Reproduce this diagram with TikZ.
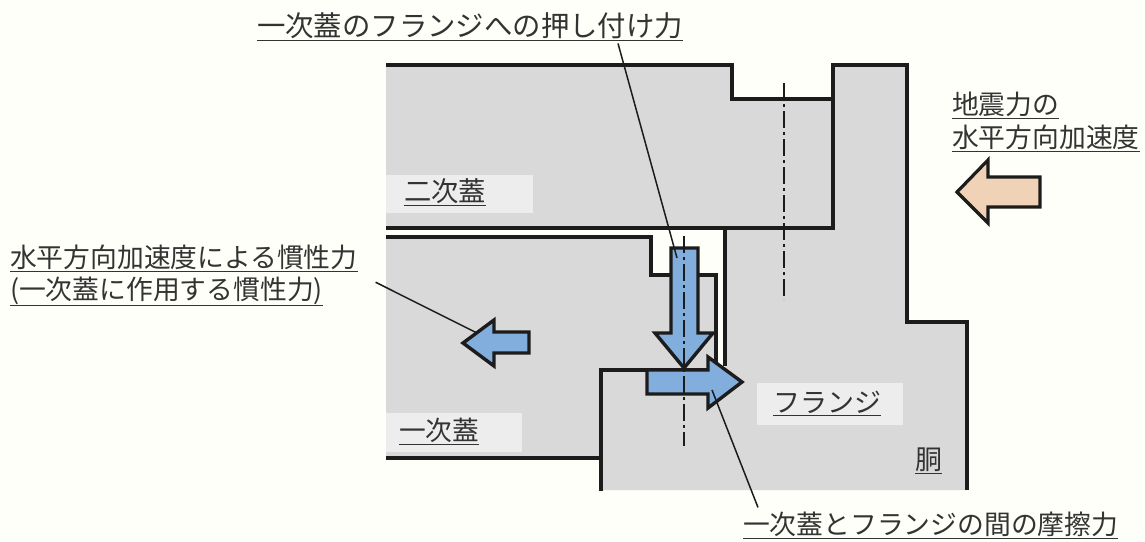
\documentclass[tikz,border=0pt]{standalone}
\usepackage{fontspec}
\setmainfont{Noto Sans CJK JP}
\usepackage{tikz}
\usetikzlibrary{positioning}
\definecolor{paperbg}{HTML}{FFFFFA}
\definecolor{partgray}{HTML}{D9D9D9}
\definecolor{patchgray}{HTML}{EDEDED}
\definecolor{forceblue}{HTML}{82AEDD}
\definecolor{accelpeach}{HTML}{F0D2B6}
\definecolor{edgedark}{HTML}{1C1C1C}
\tikzset{partfill/.style={fill=partgray, draw=none}}
\tikzset{outline/.style={draw=edgedark, line width=3.8pt, line join=miter}}
\tikzset{force/.style={draw=edgedark, fill=forceblue, line width=3.4pt, line join=miter}}
\tikzset{accel/.style={draw=edgedark, fill=accelpeach, line width=3.2pt, line join=miter}}
\tikzset{center line/.style={draw=edgedark, line width=1.7pt, dash pattern=on 17pt off 4pt on 3pt off 4pt}}
\tikzset{leader/.style={draw=edgedark, line width=1.5pt}}
\tikzset{lbl/.style={inner sep=0pt, outer sep=0pt, text=black!80, anchor=base west, font=\fontsize{#1}{30}\selectfont}}
\tikzset{patch/.style={fill=patchgray, draw=none}}

\begin{document}
\begin{tikzpicture}[x=1pt, y=-1pt]
	\useasboundingbox[fill=paperbg] (0,0) rectangle (1145,541);
	% parts
	\path[partfill] (386,65) -- (732,65) -- (732,99) -- (833,99) -- (833,229) -- (386,229) -- cycle;
	\path[partfill] (833,65) -- (907,65) -- (907,322) -- (967,322) -- (967,490) -- (601,490) -- (601,370) -- (725,370) -- (725,229) -- (833,229) -- cycle;
	\path[partfill] (386,237) -- (651,237) -- (651,275) -- (716,275) -- (716,370) -- (601,370) -- (601,458) -- (386,458) -- cycle;
	\path[patch] (386,175) rectangle (533,213);
	\path[patch] (386,413) rectangle (522,452);
	\path[patch] (757,383) rectangle (903,425);
	%
	\draw[outline] (386,65) -- (732,65) -- (732,99) -- (833,99);
	\draw[outline] (386,228) -- (833,228) -- (833,65) -- (907,65) -- (907,322) -- (967,322) -- (967,490);
	\draw[outline] (725,228) -- (725,366);
	\draw[outline] (386,237) -- (651,237) -- (651,275) -- (716,275) -- (716,366);
	\draw[outline] (601,491) -- (601,370) -- (716,370);
	\draw[outline] (386,458) -- (601,458);
	% center lines
	\coordinate (cu) at (784,83);
	\coordinate (cv) at (784,300);
	\draw[center line] (cu) -- (cv);
	\coordinate (cs) at (684,236);
	\coordinate (ce) at (684,446);
	% force arrows
	\draw[force] (671,248) -- (698,248) -- (698,333) -- (713,333) -- (684,368) -- (655,333) -- (671,333) -- cycle;
	\draw[force] (647,370) -- (708,370) -- (708,357) -- (742,382) -- (708,408) -- (708,394) -- (647,394) -- cycle;
	\draw[force] (529,332) -- (494,332) -- (494,320) -- (463,343) -- (494,366) -- (494,353) -- (529,353) -- cycle;
	\draw[accel] (1040,177) -- (988,177) -- (988,160) -- (957,192) -- (988,223) -- (988,207) -- (1040,207) -- cycle;
	\draw[center line] (cs) -- (ce);
	% labels
	\node[lbl=28.4] (press) at (257,36.5) {\underline{一次蓋のフランジへの押し付け力}};
	\node[lbl=26.8] (inertia) at (10,267.5) {\underline{水平方向加速度による慣性力}};
	\node[lbl=26.8] (inertiab) at (10,299) {\underline{(一次蓋に作用する慣性力)}};
	\node[lbl=26.8] (quake) at (952,114.5) {\underline{地震力の}};
	\node[lbl=26.8] (quakeb) at (952,147.5) {\underline{水平方向加速度}};
	\node[lbl=27.3] (second) at (404,201.5) {\underline{二次蓋}};
	\node[lbl=26.7] (first) at (399,440.5) {\underline{一次蓋}};
	\node[lbl=27] (flange) at (773,412.5) {\underline{フランジ}};
	\node[lbl=27] (body) at (915,469.5) {\underline{胴}};
	\node[lbl=26.8] (friction) at (743,534.5) {\underline{一次蓋とフランジの間の摩擦力}};
	% leaders
	\coordinate (pressend) at (677,258);
	\coordinate (inertiaend) at (477,333);
	\coordinate (frictionend) at (712,390);
	\draw[leader] (press.south) ++(148,2.5) -- (pressend);
	\draw[leader] (inertia.south east) ++(18,10.5) -- (inertiaend);
	\draw[leader] (friction.north west) ++(15,-4.5) -- (frictionend);
\end{tikzpicture}
\end{document}
